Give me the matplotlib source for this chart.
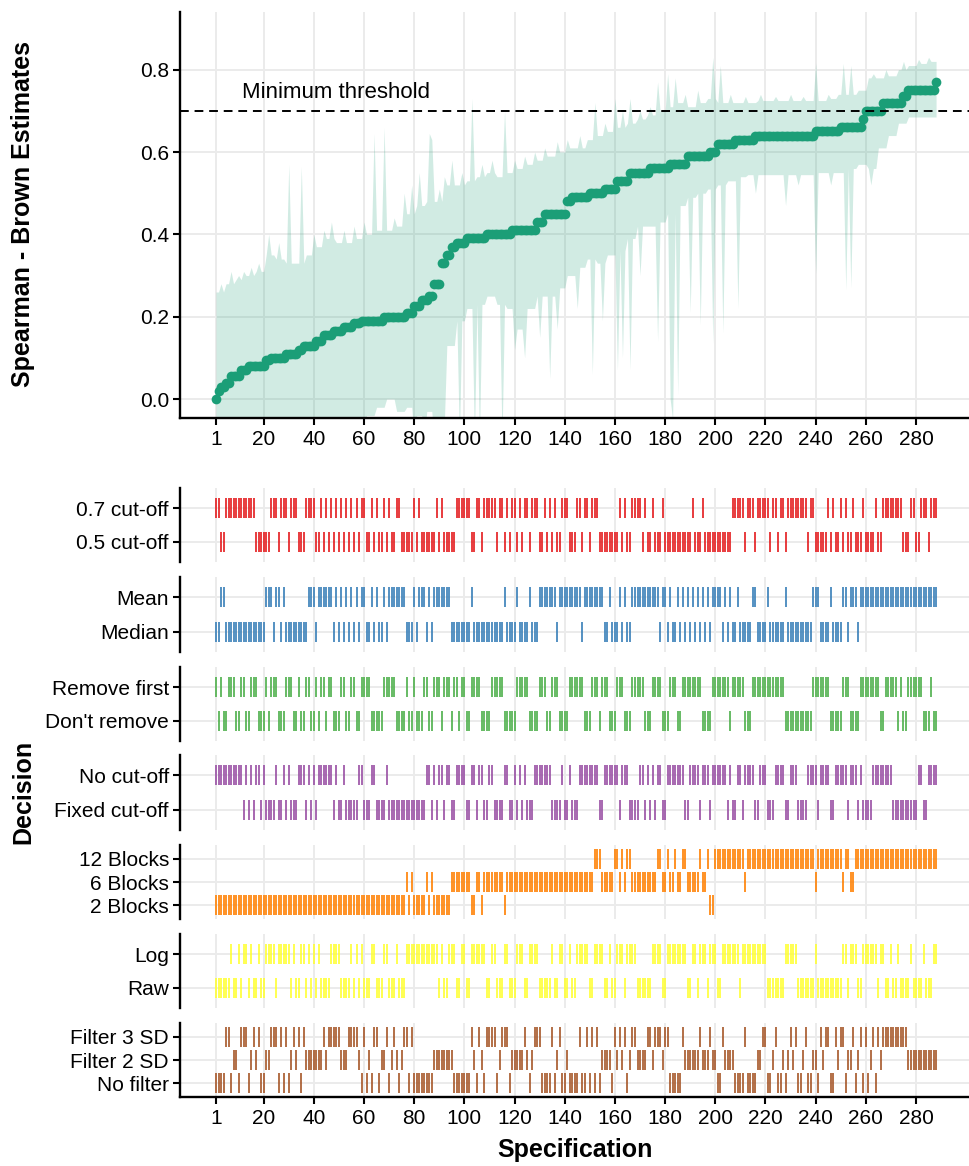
import numpy as np
import matplotlib.pyplot as plt

plt.rcParams['font.family'] = ['Liberation Sans', 'DejaVu Sans']

W, H = 969, 1166
n_spec = 288
spec = np.arange(1, n_spec + 1)

# ── Estimates (sorted), stored as runs of equal value ──────────
est_levels = [0.00, 0.02, 0.03, 0.04, 0.055, 0.07, 0.08, 0.095, 0.10, 0.11,
              0.12, 0.13, 0.14, 0.155, 0.165, 0.175, 0.185, 0.19, 0.20, 0.21,
              0.225, 0.24, 0.25, 0.28, 0.33, 0.35, 0.37, 0.38, 0.39, 0.40,
              0.41, 0.43, 0.45, 0.48, 0.49, 0.50, 0.51, 0.53, 0.55, 0.56,
              0.57, 0.59, 0.60, 0.62, 0.63, 0.64, 0.65, 0.66, 0.68, 0.70,
              0.72, 0.735, 0.75, 0.77]
est_counts = [1, 1, 2, 2, 4, 3, 7, 2, 6, 5,
              2, 5, 3, 4, 4, 4, 3, 9, 9, 3,
              3, 3, 2, 3, 2, 2, 2, 4, 8, 10,
              10, 3, 9, 2, 7, 6, 5, 5, 8, 8,
              7, 9, 3, 7, 8, 24, 10, 9, 1, 7,
              8, 2, 11, 1]

# ── CI ribbon: base level per block of 4 specs + single spikes ──
upper_base = [0.26, 0.28, 0.29, 0.30, 0.31, 0.35, 0.34, 0.33, 0.33, 0.35,
              0.37, 0.39, 0.38, 0.38, 0.39, 0.40, 0.41, 0.41, 0.42, 0.45,
              0.47, 0.48, 0.48, 0.52, 0.52, 0.53, 0.54, 0.55, 0.54, 0.55,
              0.56, 0.57, 0.58, 0.59, 0.60, 0.61, 0.61, 0.63, 0.64, 0.65,
              0.66, 0.67, 0.68, 0.69, 0.70, 0.71, 0.72, 0.71, 0.72, 0.73,
              0.72, 0.72, 0.72, 0.72, 0.725, 0.725, 0.725, 0.725, 0.725, 0.725,
              0.725, 0.73, 0.74, 0.74, 0.75, 0.78, 0.78, 0.785, 0.80, 0.81,
              0.815, 0.82]
lower_base = [-0.12, -0.12, -0.12, -0.12, -0.12, -0.12, -0.10, -0.10, -0.10, -0.10,
              -0.10, -0.10, -0.10, -0.10, -0.10, -0.04, -0.02, 0.00, -0.03, -0.02,
              -0.04, -0.03, -0.06, 0.13, 0.19, 0.22, 0.23, 0.25, 0.23, 0.22,
              0.17, 0.22, 0.25, 0.25, 0.27, 0.30, 0.32, 0.34, 0.33, 0.35,
              0.36, 0.39, 0.42, 0.42, 0.43, 0.45, 0.47, 0.49, 0.50, 0.51,
              0.52, 0.53, 0.54, 0.545, 0.545, 0.545, 0.545, 0.545, 0.545, 0.545,
              0.55, 0.55, 0.55, 0.56, 0.57, 0.56, 0.61, 0.64, 0.67, 0.685,
              0.685, 0.685]
upper_spike_spec = [3, 7, 10, 12, 15, 18, 22, 26, 30, 35, 40, 44, 47, 52, 56, 60,
                    64, 68, 72, 76, 79, 82, 86, 87, 90, 92, 95, 99, 103, 107, 111,
                    116, 120, 124, 128, 132, 137, 141, 146, 152, 156, 160, 163, 166,
                    170, 174, 177, 181, 184, 188, 193, 199, 202, 206, 212, 218, 224,
                    230, 235, 240, 245, 251, 254, 263, 268, 275, 281, 285]
upper_spike_val = [0.28, 0.31, 0.30, 0.31, 0.32, 0.33, 0.40, 0.38, 0.57, 0.565,
                   0.40, 0.41, 0.43, 0.41, 0.42, 0.43, 0.645, 0.66, 0.44, 0.50,
                   0.52, 0.55, 0.645, 0.63, 0.51, 0.54, 0.58, 0.55, 0.73, 0.57,
                   0.58, 0.70, 0.58, 0.59, 0.60, 0.61, 0.625, 0.63, 0.64, 0.72,
                   0.67, 0.73, 0.70, 0.73, 0.70, 0.71, 0.77, 0.79, 0.78, 0.74,
                   0.75, 0.83, 0.81, 0.74, 0.735, 0.74, 0.735, 0.74, 0.735, 0.816,
                   0.74, 0.815, 0.81, 0.79, 0.80, 0.82, 0.825, 0.83]
lower_spike_spec = [80, 84, 88, 91, 98, 104, 106, 115, 120, 124, 130, 134, 137,
                    145, 151, 155, 161, 163, 166, 170, 177, 182, 183, 185, 190,
                    194, 199, 203, 209, 216, 228, 233, 240, 246, 252, 254, 262]
lower_spike_val = [-0.10, -0.10, -0.10, -0.10, -0.10, -0.10, -0.10, -0.10, 0.12,
                   0.10, 0.15, 0.05, 0.17, 0.22, 0.06, 0.19, 0.07, 0.10, 0.07,
                   0.30, 0.14, 0.00, -0.05, 0.01, 0.21, 0.18, 0.135, 0.16, 0.22,
                   0.50, 0.47, 0.52, 0.305, 0.52, 0.265, 0.27, 0.52]

# ── Decision rows: spec ranges (inclusive) ─────────────────────
cut07_ranges = [(1, 2), (5, 16), (23, 25), (27, 29), (31, 33), (37, 40), (43, 43),
                (45, 45), (47, 47), (49, 49), (51, 51), (53, 53), (55, 55), (57, 57),
                (59, 60), (63, 63), (65, 65), (68, 68), (70, 70), (73, 74), (80, 80),
                (82, 82), (89, 89), (91, 91), (97, 102), (105, 106), (108, 112),
                (114, 115), (117, 117), (119, 120), (122, 122), (124, 125), (127, 129),
                (132, 132), (134, 134), (136, 136), (139, 141), (145, 146), (148, 149),
                (151, 153), (162, 162), (164, 164), (167, 170), (172, 172), (175, 175),
                (179, 179), (191, 191), (195, 195), (207, 211), (213, 215), (217, 221),
                (223, 224), (226, 227), (229, 232), (233, 236), (238, 239), (245, 245),
                (247, 247), (250, 250), (252, 252), (255, 255), (259, 259), (264, 264),
                (267, 267), (268, 274), (278, 279), (282, 284), (286, 288)]
mean_ranges = [(3, 4), (21, 23), (25, 26), (28, 28), (38, 40), (42, 47), (49, 49),
               (51, 51), (53, 53), (55, 55), (57, 57), (59, 60), (63, 63), (65, 65),
               (68, 68), (70, 76), (80, 80), (82, 84), (86, 86), (88, 94), (103, 103),
               (116, 116), (121, 121), (126, 126), (130, 136), (138, 146), (148, 149),
               (150, 155), (158, 158), (162, 162), (164, 164), (167, 177), (179, 180),
               (182, 182), (185, 185), (187, 187), (189, 189), (191, 191), (193, 193),
               (195, 195), (197, 197), (199, 202), (204, 204), (206, 206), (209, 209),
               (215, 216), (221, 221), (228, 228), (239, 241), (246, 246), (251, 252),
               (254, 256), (258, 288)]
remove_ranges = [(1, 1), (3, 3), (6, 8), (11, 12), (15, 17), (21, 21), (23, 25),
                 (29, 31), (34, 34), (37, 38), (41, 41), (43, 44), (46, 47), (51, 52),
                 (55, 56), (59, 62), (68, 72), (77, 77), (80, 80), (84, 85), (88, 90),
                 (92, 93), (94, 94), (96, 97), (99, 100), (103, 106), (111, 115),
                 (121, 125), (130, 132), (135, 137), (142, 147), (151, 153), (155, 157),
                 (161, 163), (167, 171), (175, 178), (182, 184), (187, 194), (199, 201),
                 (202, 205), (207, 211), (215, 227), (239, 245), (251, 253), (258, 261),
                 (262, 265), (268, 272), (274, 274), (277, 282), (286, 286)]
nocut_ranges = [(1, 11), (13, 13), (15, 15), (17, 18), (20, 20), (25, 25), (28, 28),
                (30, 30), (34, 36), (38, 38), (40, 40), (42, 47), (49, 49), (52, 52),
                (58, 59), (63, 64), (69, 69), (85, 86), (88, 88), (90, 91), (93, 94),
                (97, 100), (103, 104), (106, 107), (110, 111), (116, 117), (120, 120),
                (122, 122), (124, 124), (128, 134), (139, 139), (142, 142), (146, 153),
                (156, 161), (163, 165), (170, 171), (173, 173), (175, 175), (177, 178),
                (181, 187), (190, 193), (195, 197), (199, 204), (206, 206), (209, 210),
                (212, 215), (218, 220), (224, 227), (230, 232), (237, 240), (242, 245),
                (248, 252), (254, 256), (258, 258), (263, 266), (267, 270), (281, 282),
                (285, 288)]
blocks12_ranges = [(152, 154), (160, 161), (163, 163), (165, 166), (177, 178), (181, 181),
                   (184, 184), (187, 188), (194, 194), (197, 197), (200, 202), (203, 211),
                   (213, 239), (241, 250), (252, 253), (256, 288)]
blocks2_ranges = [(1, 76), (78, 78), (80, 84), (86, 86), (88, 94), (103, 104), (107, 107),
                  (116, 116), (198, 199)]
log_ranges = [(7, 7), (10, 10), (12, 13), (15, 15), (18, 18), (21, 24), (26, 28), (29, 30),
              (32, 32), (35, 36), (38, 38), (40, 40), (42, 42), (47, 50), (55, 55), (57, 57),
              (59, 59), (63, 64), (68, 69), (73, 73), (77, 89), (91, 91), (94, 96),
              (99, 100), (103, 108), (111, 112), (116, 117), (121, 123), (126, 129),
              (135, 135), (138, 139), (142, 142), (145, 149), (152, 155), (158, 158),
              (161, 163), (165, 168), (175, 178), (181, 188), (191, 192), (194, 196),
              (198, 200), (203, 209), (211, 214), (215, 220), (228, 232), (240, 240),
              (251, 252), (254, 256), (259, 264), (266, 267), (270, 270), (273, 273),
              (278, 278), (283, 283), (287, 288)]
filter3_ranges = [(5, 6), (11, 13), (16, 16), (18, 18), (23, 25), (27, 27), (29, 29),
                  (32, 32), (34, 34), (36, 36), (44, 50), (54, 57), (60, 60), (64, 65),
                  (69, 69), (72, 72), (76, 77), (79, 79), (103, 103), (106, 106),
                  (109, 112), (115, 117), (124, 124), (128, 128), (129, 130), (135, 135),
                  (138, 138), (146, 146), (149, 149), (151, 151), (153, 153), (157, 157),
                  (160, 160), (162, 162), (164, 164), (167, 168), (171, 171), (173, 181),
                  (187, 187), (194, 194), (198, 198), (203, 203), (212, 212), (218, 220),
                  (224, 224), (230, 232), (236, 236), (242, 245), (248, 251), (255, 255),
                  (258, 258), (260, 260), (263, 263), (265, 265), (267, 276)]
filter2_ranges = [(8, 9), (15, 15), (17, 17), (21, 22), (31, 31), (33, 33), (37, 43),
                  (45, 45), (51, 53), (58, 58), (62, 62), (67, 68), (71, 71), (73, 73),
                  (75, 75), (88, 95), (104, 104), (107, 107), (114, 114), (119, 123),
                  (125, 125), (127, 127), (137, 137), (141, 141), (155, 158), (161, 161),
                  (163, 163), (166, 166), (169, 172), (175, 175), (179, 179), (188, 193),
                  (195, 197), (199, 200), (204, 207), (217, 218), (223, 223), (227, 227),
                  (229, 229), (231, 231), (235, 235), (239, 240), (243, 243), (249, 249),
                  (253, 254), (257, 257), (262, 262), (266, 266), (277, 288)]


def expand(ranges):
    out = set()
    for a, b in ranges:
        out.update(range(a, b + 1))
    return np.array(sorted(out))


def two_way(ranges):
    first = expand(ranges)
    second = np.setdiff1d(spec, first)
    return [first, second]


def three_way(rest_row, ranges_a, row_a, ranges_b, row_b):
    # every spec belongs to exactly one row; rows indexed top (0) to bottom (2)
    lab = np.full(n_spec, rest_row)
    lab[expand(ranges_a) - 1] = row_a
    lab[expand(ranges_b) - 1] = row_b
    return [spec[lab == k] for k in range(3)]


# build data columns
est = np.repeat(est_levels, est_counts)
upper = np.repeat(upper_base, 4)
lower = np.repeat(lower_base, 4)
upper[np.array(upper_spike_spec) - 1] = upper_spike_val
lower[np.array(lower_spike_spec) - 1] = lower_spike_val

facets = [
    (["0.7 cut-off", "0.5 cut-off"], "#E41A1C", two_way(cut07_ranges), (488, 562)),
    (["Mean", "Median"], "#377EB8", two_way(mean_ranges), (577, 652)),
    (["Remove first", "Don't remove"], "#4DAF4A", two_way(remove_ranges), (667, 741)),
    (["No cut-off", "Fixed cut-off"], "#984EA3", two_way(nocut_ranges), (755, 830)),
    (["12 Blocks", "6 Blocks", "2 Blocks"], "#FF7F00",
     three_way(1, blocks12_ranges, 0, blocks2_ranges, 2), (845, 919)),
    (["Log", "Raw"], "#FFFF33", two_way(log_ranges), (934, 1008)),
    (["Filter 3 SD", "Filter 2 SD", "No filter"], "#A65628",
     three_way(2, filter3_ranges, 0, filter2_ranges, 1), (1023, 1097)),
]

# ── Figure ───────────────────────────────────────────────────
fig = plt.figure(figsize=(W / 100, H / 100), dpi=100)

LEFT, RIGHT = 180, 969
x_lo = -13.35
x_hi = x_lo + (RIGHT - LEFT) / 2.509
xticks = [1] + list(range(20, 281, 20))
grid_c = "#EBEBEB"


def px_axes(top, bottom):
    return fig.add_axes([LEFT / W, 1 - bottom / H, (RIGHT - LEFT) / W, (bottom - top) / H])


def style(ax, show_x):
    for s in ["top", "right"]:
        ax.spines[s].set_visible(False)
    ax.spines["left"].set_linewidth(1.7)
    ax.spines["bottom"].set_linewidth(1.7)
    ax.spines["bottom"].set_visible(show_x)
    ax.set_xlim(x_lo, x_hi)
    ax.set_xticks(xticks)
    ax.grid(True, color=grid_c, lw=1.4)
    ax.set_axisbelow(True)
    ax.tick_params(axis="y", length=5, width=1.5, labelsize=15, pad=3)
    if show_x:
        ax.tick_params(axis="x", length=5, width=1.5, labelsize=15, pad=4)
    else:
        ax.tick_params(axis="x", length=0, labelbottom=False)


# Top panel: specification curve
ax = px_axes(12, 418)
style(ax, True)
ax.fill_between(spec, lower, upper, color="#1B9E77", alpha=0.2, lw=0)
ax.plot(spec, est, "o", color="#1B9E77", ms=7, mew=0)
ax.axhline(0.7, color="black", lw=1.4, dashes=(4.5, 3))
ax.text(11.4, 0.73, "Minimum threshold", fontsize=16, ha="left", va="baseline")
ax.set_ylim(-0.046, 0.94)
ax.set_yticks([0, 0.2, 0.4, 0.6, 0.8])
ax.set_yticklabels(["0.0", "0.2", "0.4", "0.6", "0.8"])

# Bottom panels: decisions
for i, (labels, color, groups, (top, bottom)) in enumerate(facets):
    ax = px_axes(top, bottom)
    last = i == len(facets) - 1
    style(ax, last)
    n = len(labels)
    for k, xs in enumerate(groups):
        ax.plot(xs, np.full(len(xs), n - k), ls="none", marker="|",
                ms=14.5, mew=1.2, color=color)
    ax.set_ylim(0.4, n + 0.6)
    ax.set_yticks(list(range(n, 0, -1)))
    ax.set_yticklabels(labels)

fig.text(23 / W, 1 - 214 / H, "Spearman - Brown Estimates", rotation=90,
         fontsize=18, fontweight="bold", ha="center", va="center")
fig.text(23 / W, 1 - 792 / H, "Decision", rotation=90,
         fontsize=18, fontweight="bold", ha="center", va="center")
fig.text(575 / W, 1 - 1150 / H, "Specification",
         fontsize=18, fontweight="bold", ha="center", va="center")

fig.savefig("out.png", dpi=100)
